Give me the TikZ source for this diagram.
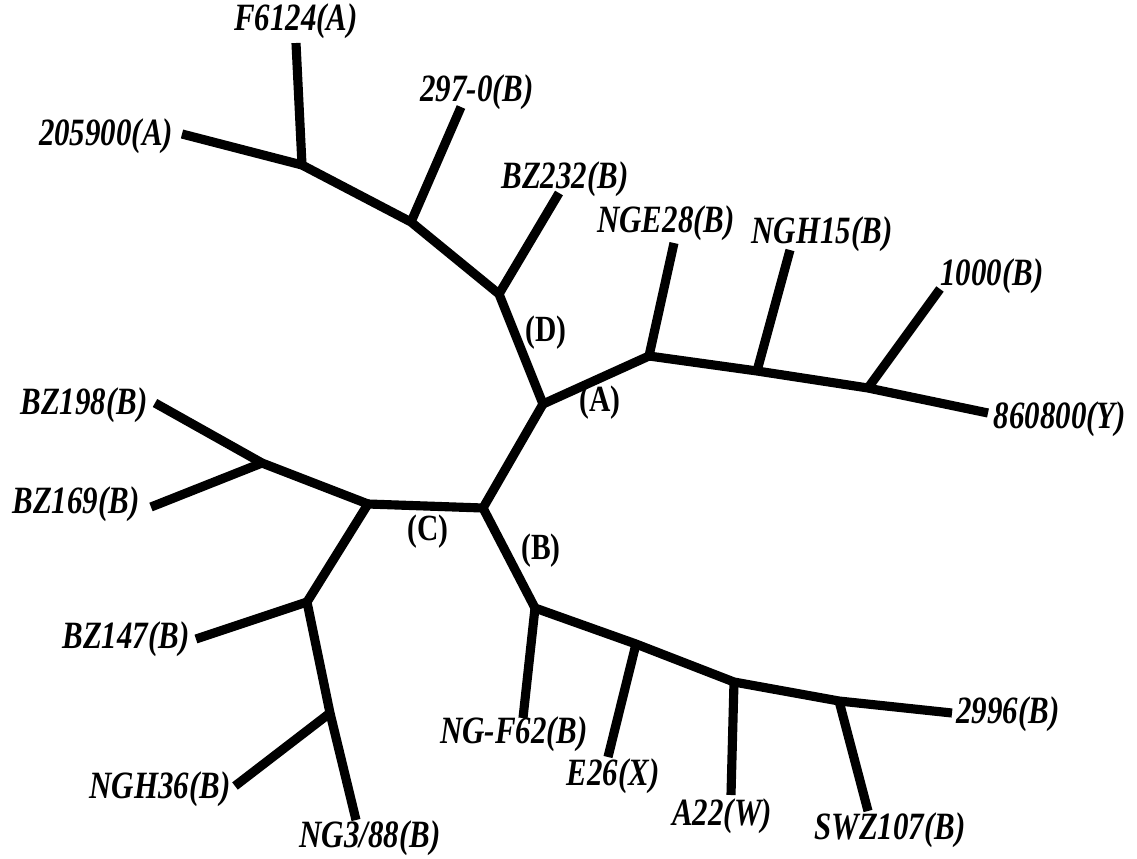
\documentclass[tikz,border=0pt]{standalone}
\usepackage{fontspec}
\setmainfont{Liberation Serif}
\newfontfamily\treefont[FakeStretch=0.8]{Liberation Serif}
\usetikzlibrary{positioning}

\begin{document}
\begin{tikzpicture}[x=0.02cm, y=-0.02cm]

        % --- Styles ---
        \tikzset{
            branch/.style={line width=5.2pt, black},
            leaf/.style={font=\treefont\fontsize{22}{24}\selectfont\bfseries\itshape, inner sep=0pt},
            clade/.style={font=\treefont\fontsize{21}{24}\selectfont\bfseries, inner sep=0pt}
        }
        \useasboundingbox (0,0) rectangle (1137,859);

        % --- Noeuds internes ---
        \coordinate (nA) at (543,404);
        \coordinate (nB) at (483,508);
        \coordinate (nC) at (368,504);
        \coordinate (nD) at (499,294);
        \coordinate (d1) at (411,222);
        \coordinate (d2) at (302,165);
        \coordinate (a1) at (649,356);
        \coordinate (a2) at (757,371);
        \coordinate (a3) at (868,388);
        \coordinate (b1) at (535,608);
        \coordinate (b2) at (636,644);
        \coordinate (b3) at (734,682);
        \coordinate (b4) at (839,701);
        \coordinate (c1) at (262,463);
        \coordinate (c2) at (307,602);
        \coordinate (c3) at (330,713);

        % --- Extremites des feuilles ---
        \coordinate (t205900) at (182,134);
        \coordinate (tF6124) at (296,43);
        \coordinate (t2970) at (461,107);
        \coordinate (tBZ232) at (559,193);
        \coordinate (tNGE28) at (674,243);
        \coordinate (tNGH15) at (790,250);
        \coordinate (t1000) at (940,289);
        \coordinate (t860800) at (988,413);
        \coordinate (t2996) at (952,713);
        \coordinate (tSWZ107) at (868,811);
        \coordinate (tA22) at (731,795);
        \coordinate (tE26) at (608,757);
        \coordinate (tNGF62) at (523,718);
        \coordinate (tNG388) at (356,820);
        \coordinate (tNGH36) at (235,786);
        \coordinate (tBZ147) at (196,639);
        \coordinate (tBZ169) at (151,507);
        \coordinate (tBZ198) at (155,403);

        % --- Branches ---
        \draw[branch] (nA) -- (nB) -- (nC);
        \draw[branch] (nA) -- (nD) -- (d1) -- (d2) -- (t205900);
        \draw[branch] (d2) -- (tF6124);
        \draw[branch] (d1) -- (t2970);
        \draw[branch] (nD) -- (tBZ232);
        \draw[branch] (nA) -- (a1) -- (a2) -- (a3) -- (t860800);
        \draw[branch] (a1) -- (tNGE28);
        \draw[branch] (a2) -- (tNGH15);
        \draw[branch] (a3) -- (t1000);
        \draw[branch] (nB) -- (b1) -- (b2) -- (b3) -- (b4) -- (t2996);
        \draw[branch] (b1) -- (tNGF62);
        \draw[branch] (b2) -- (tE26);
        \draw[branch] (b3) -- (tA22);
        \draw[branch] (b4) -- (tSWZ107);
        \draw[branch] (nC) -- (c1) -- (tBZ198);
        \draw[branch] (c1) -- (tBZ169);
        \draw[branch] (nC) -- (c2) -- (c3) -- (tNG388);
        \draw[branch] (c2) -- (tBZ147);
        \draw[branch] (c3) -- (tNGH36);

        % --- Etiquettes des feuilles ---
        \node[leaf] (l205900) at (106,136) {205900(A)};
        \node[leaf] (lF6124) at (296,21) {F6124(A)};
        \node[leaf] (l2970) at (477,92) {297-0(B)};
        \node[leaf] (lBZ232) at (565,179) {BZ232(B)};
        \node[leaf] (lNGE28) at (666,223) {NGE28(B)};
        \node[leaf] (lNGH15) at (822,234) {NGH15(B)};
        \node[leaf] (l1000) at (992,276) {1000(B)};
        \node[leaf] (l860800) at (1060,419) {860800(Y)};
        \node[leaf] (l2996) at (1008,714) {2996(B)};
        \node[leaf] (lSWZ107) at (890,830) {SWZ107(B)};
        \node[leaf] (lA22) at (722,816) {A22(W)};
        \node[leaf] (lE26) at (613,776) {E26(X)};
        \node[leaf] (lNGF62) at (514,734) {NG-F62(B)};
        \node[leaf] (lNG388) at (370,838) {NG3/88(B)};
        \node[leaf] (lNGH36) at (160,789) {NGH36(B)};
        \node[leaf] (lBZ147) at (126,639) {BZ147(B)};
        \node[leaf] (lBZ169) at (76,504) {BZ169(B)};
        \node[leaf] (lBZ198) at (84,405) {BZ198(B)};

        % --- Etiquettes des clades ---
        \node[clade] (labD) at (546,333) {(D)};
        \node[clade] (labA) at (600,403) {(A)};
        \node[clade] (labC) at (428,532) {(C)};
        \node[clade] (labB) at (541,551) {(B)};

\end{tikzpicture}
\end{document}
